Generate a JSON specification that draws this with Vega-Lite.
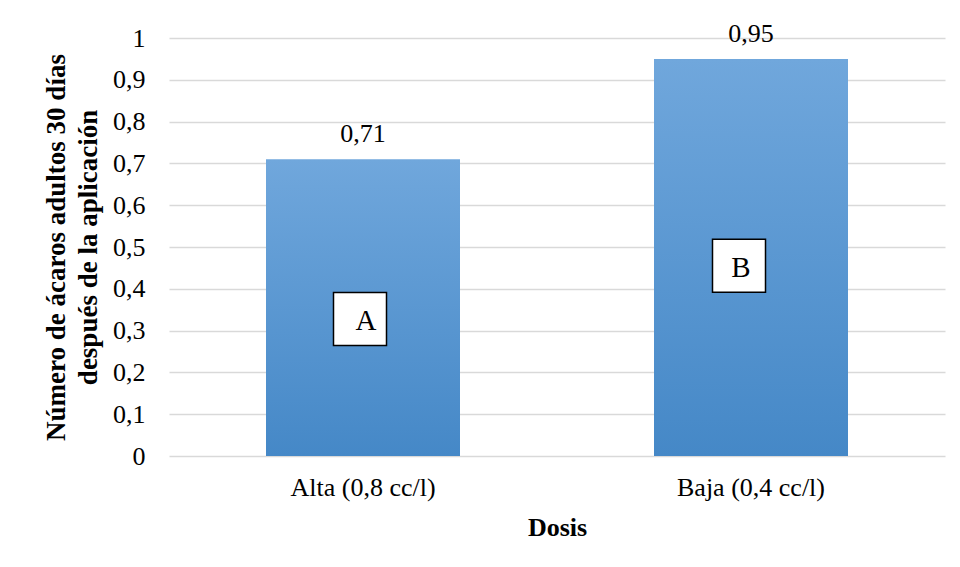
{
  "$schema": "https://vega.github.io/schema/vega-lite/v6.json",
  "width": 776,
  "height": 418,
  "autosize": {"type": "none"},
  "padding": {"left": 169, "top": 38, "right": 15, "bottom": 111},
  "background": "white",
  "config": {
    "view": {"stroke": null},
    "font": "Liberation Serif",
    "text": {"font": "Liberation Serif"},
    "axis": {"labelFont": "Liberation Serif", "titleFont": "Liberation Serif"},
    "locale": {"number": {"decimal": ",", "thousands": ".", "grouping": [3], "currency": ["", " €"]}}
  },
  "data": {
    "values": [
      {"dosis": "Alta (0,8 cc/l)", "valor": 0.71, "letra": "A", "posLetra": 0.328},
      {"dosis": "Baja (0,4 cc/l)", "valor": 0.95, "letra": "B", "posLetra": 0.455}
    ]
  },
  "encoding": {
    "x": {
      "field": "dosis",
      "type": "nominal",
      "sort": null,
      "scale": {"paddingInner": 0.5, "paddingOuter": 0.25},
      "axis": {
        "labelAngle": 0,
        "labelFont": "Liberation Serif",
        "labelFontSize": 26,
        "labelColor": "#000000",
        "labelPadding": 18,
        "ticks": false,
        "domain": false,
        "title": "Dosis",
        "titleFont": "Liberation Serif",
        "titleFontSize": 26,
        "titleFontWeight": "bold",
        "titleColor": "#000000",
        "titlePadding": 14
      }
    }
  },
  "layer": [
    {
      "mark": {
        "type": "bar",
        "color": {
          "gradient": "linear",
          "x1": 0, "y1": 0, "x2": 0, "y2": 1,
          "stops": [
            {"offset": 0, "color": "#70a7dc"},
            {"offset": 1, "color": "#4588c7"}
          ]
        }
      },
      "encoding": {
        "y": {
          "field": "valor",
          "type": "quantitative",
          "scale": {"domain": [0, 1]},
          "axis": {
            "values": [0, 0.1, 0.2, 0.3, 0.4, 0.5, 0.6, 0.7, 0.8, 0.9, 1],
            "format": "~g",
            "labelExpr": "replace(datum.label, '.', ',')",
            "labelFont": "Liberation Serif",
            "labelFontSize": 26,
            "labelColor": "#000000",
            "labelPadding": 24,
            "ticks": false,
            "domain": false,
            "gridColor": "#d9d9d9",
            "gridWidth": 1.3,
            "title": ["Número de ácaros adultos 30 días", "después de la aplicación"],
            "titleFont": "Liberation Serif",
            "titleFontSize": 27,
            "titleFontWeight": "bold",
            "titleColor": "#000000",
            "titleLineHeight": 32,
            "titlePadding": 10
          }
        }
      }
    },
    {
      "mark": {"type": "text", "font": "Liberation Serif", "fontSize": 26, "color": "#000000", "baseline": "alphabetic", "dy": -17},
      "encoding": {
        "y": {"field": "valor", "type": "quantitative"},
        "text": {"field": "valor", "type": "quantitative", "format": ".2f"}
      }
    },
    {
      "transform": [{"filter": "datum.letra == 'A'"}],
      "mark": {"type": "point", "shape": "square", "size": 2809, "filled": true, "fill": "white", "stroke": "black", "strokeWidth": 1.5, "opacity": 1, "xOffset": -3},
      "encoding": {"y": {"field": "posLetra", "type": "quantitative"}}
    },
    {
      "transform": [{"filter": "datum.letra == 'B'"}],
      "mark": {"type": "point", "shape": "square", "size": 2809, "filled": true, "fill": "white", "stroke": "black", "strokeWidth": 1.5, "opacity": 1, "xOffset": -12},
      "encoding": {"y": {"field": "posLetra", "type": "quantitative"}}
    },
    {
      "transform": [{"filter": "datum.letra == 'A'"}],
      "mark": {"type": "text", "font": "Liberation Serif", "fontSize": 29, "color": "#000000", "baseline": "middle", "xOffset": 3, "dy": 2},
      "encoding": {"y": {"field": "posLetra", "type": "quantitative"}, "text": {"field": "letra"}}
    },
    {
      "transform": [{"filter": "datum.letra == 'B'"}],
      "mark": {"type": "text", "font": "Liberation Serif", "fontSize": 29, "color": "#000000", "baseline": "middle", "xOffset": -10, "dy": 2},
      "encoding": {"y": {"field": "posLetra", "type": "quantitative"}, "text": {"field": "letra"}}
    }
  ]
}
